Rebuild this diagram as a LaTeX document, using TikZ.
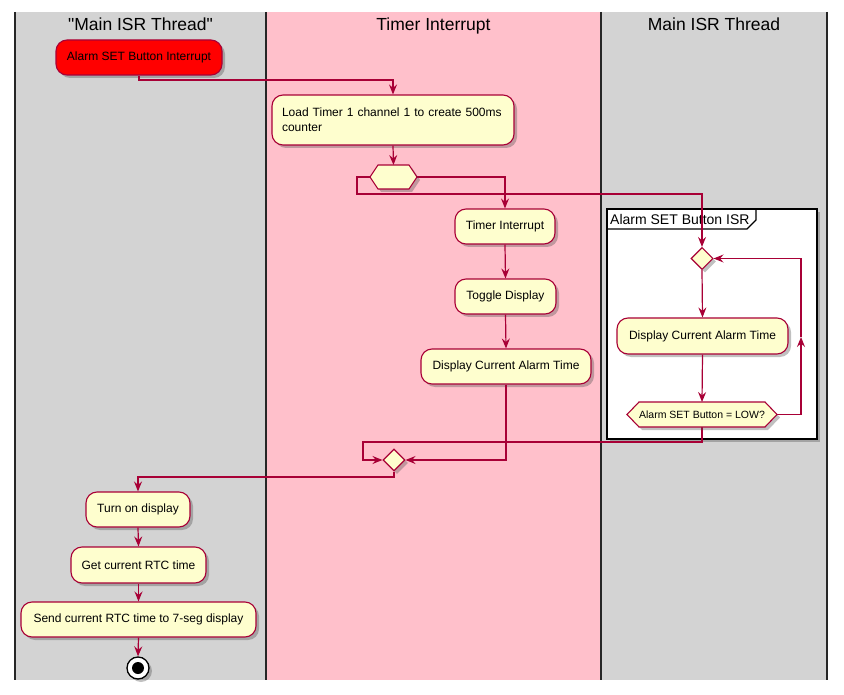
\documentclass[tikz,border=0pt]{standalone}
\usepackage{fontspec}
\setmainfont{Liberation Sans}
\newfontfamily\titlefont{Liberation Sans}
\usetikzlibrary{arrows.meta,shapes.geometric,shadows}
\definecolor{pfill}{HTML}{FEFECE}
\definecolor{pline}{HTML}{A80036}
\definecolor{lanegray}{HTML}{D3D3D3}
\definecolor{lanepink}{HTML}{FFC0CB}
\begin{document}
\begin{tikzpicture}[x=1pt,y=-1pt,
  pshadow/.style={drop shadow={shadow xshift=3pt,shadow yshift=-3pt,opacity=0.35,fill=black!70}},
  act/.style={draw=pline,fill=pfill,line width=1.1pt,rounded corners=11pt,inner sep=0pt,
    font=\fontsize{12}{14}\selectfont,pshadow,minimum height=35pt},
  hexbox/.style={draw=pline,fill=pfill,line width=1.1pt,pshadow},
  anchorbox/.style={inner sep=0pt,outer sep=0pt},
  dia/.style={diamond,aspect=1,draw=pline,fill=pfill,line width=1.1pt,inner sep=0pt,
    minimum width=22pt,minimum height=22pt,pshadow},
  conn/.style={draw=pline,line width=1.2pt,-{Stealth[length=10pt,width=8pt,inset=3.5pt]}},
  laneline/.style={draw=black!85,line width=1.5pt},
  lanetitle/.style={anchor=base,font=\titlefont\fontsize{17.5}{20}\selectfont},
]
\useasboundingbox (0,0) rectangle (844,695);
% lanes
\fill[lanegray] (15,12) rectangle (266,680);
\fill[lanepink] (266,12) rectangle (601,680);
\fill[lanegray] (601,12) rectangle (827,680);
\draw[laneline] (15,12) -- (15,680);
\draw[laneline] (266,12) -- (266,680);
\draw[laneline] (601,12) -- (601,680);
\draw[laneline] (827,12) -- (827,680);
\node[lanetitle] (t1) at (140.5,31) {"Main ISR Thread"};
\node[lanetitle] (t2) at (433.5,31) {Timer Interrupt};
\node[lanetitle] (t3) at (714,31) {Main ISR Thread};
% frame
\draw[draw=black,line width=1.5pt,fill=white,pshadow] (607,209) rectangle (817,439);
\draw[draw=black,line width=1.2pt] (607,229) -- (747,229) -- (756,220) -- (756,209);
\node[anchor=base west,inner sep=0pt,font=\fontsize{14}{16}\selectfont] (ftitle) at (610,225) {Alarm SET Button ISR};

% anchor nodes for hexagons
\node[anchorbox,minimum width=47pt,minimum height=24pt] (fork) at (393.5,177) {};
\node[anchorbox,minimum width=150pt,minimum height=25pt] (dec) at (702,414.5) {};

% activity nodes
\node[act,fill=red,minimum width=166pt,font=\fontsize{12}{14}\selectfont] (red) at (139,57.5) {Alarm SET Button Interrupt};
\node[act,minimum width=242pt,minimum height=50pt,align=left,text width=222pt,font=\fontsize{12}{15}\selectfont] (load) at (393,120) {Load Timer 1 channel 1 to create 500ms\\counter};
\node[act,minimum width=100pt] (ti) at (505,226.5) {Timer Interrupt};
\node[act,minimum width=101pt] (tog) at (505.5,296.5) {Toggle Display};
\node[act,minimum width=170pt] (disp2) at (506,366.5) {Display Current Alarm Time};
\node[dia] (loopd) at (702,258.5) {};
\node[act,minimum width=171pt,minimum height=36pt] (disp3) at (702.5,336) {Display Current Alarm Time};
\node[dia] (join) at (394,460) {};
\node[act,minimum width=104pt] (turn) at (138,509.5) {Turn on display};
\node[act,minimum width=135pt,minimum height=36pt] (getrtc) at (138.5,565) {Get current RTC time};
\node[act,minimum width=235pt] (send) at (138.5,619.5) {Send current RTC time to 7-seg display};
\node[circle,draw=black,line width=1.3pt,fill=white,minimum size=22pt,inner sep=0pt,pshadow] (stop) at (138,668) {};
\fill[black] (stop.center) circle (6pt);

% coordinates
\coordinate (rb) at (139,80);
\coordinate (fl) at (357,194);
\coordinate (lm) at (801,337);
\coordinate (jl) at (363,442);
\coordinate (jb) at (394,477);

% connectors
\draw[conn] (red.south) -- (rb) -| (load.north);
\draw[conn] (load.south) -- (fork.north);
\draw[conn] (fork.east) -| (ti.north);
\draw[conn] (fork.west) -| (fl) -| (loopd.north);
\draw[conn] (ti.south) -- (tog.north);
\draw[conn] (tog.south) -- (disp2.north);
\draw[conn] (disp2.south) |- (join.east);
\draw[conn] (loopd.south) -- (disp3.north);
\draw[conn] (disp3.south) -- (dec.north);
\draw[conn] (dec.east) -| (lm);
\draw[conn] (lm) |- (loopd.east);
\draw[conn] (dec.south) |- (jl) |- (join.west);
\draw[conn] (join.south) -- (jb) -| (turn.north);
\draw[conn] (turn.south) -- (getrtc.north);
\draw[conn] (getrtc.south) -- (send.north);
\draw[conn] (send.south) -- (stop.north);

% hexagons drawn over anchor boxes
\draw[hexbox] (fork.west) -- ([xshift=8pt]fork.north west) -- ([xshift=-8pt]fork.north east) -- (fork.east) -- ([xshift=-8pt]fork.south east) -- ([xshift=8pt]fork.south west) -- cycle;
\draw[hexbox] (dec.west) -- ([xshift=12pt]dec.north west) -- ([xshift=-12pt]dec.north east) -- (dec.east) -- ([xshift=-12pt]dec.south east) -- ([xshift=12pt]dec.south west) -- cycle;
\node[font=\fontsize{10.5}{12}\selectfont,inner sep=0pt] (dectext) at (dec.center) {Alarm SET Button = LOW?};
\end{tikzpicture}
\end{document}
